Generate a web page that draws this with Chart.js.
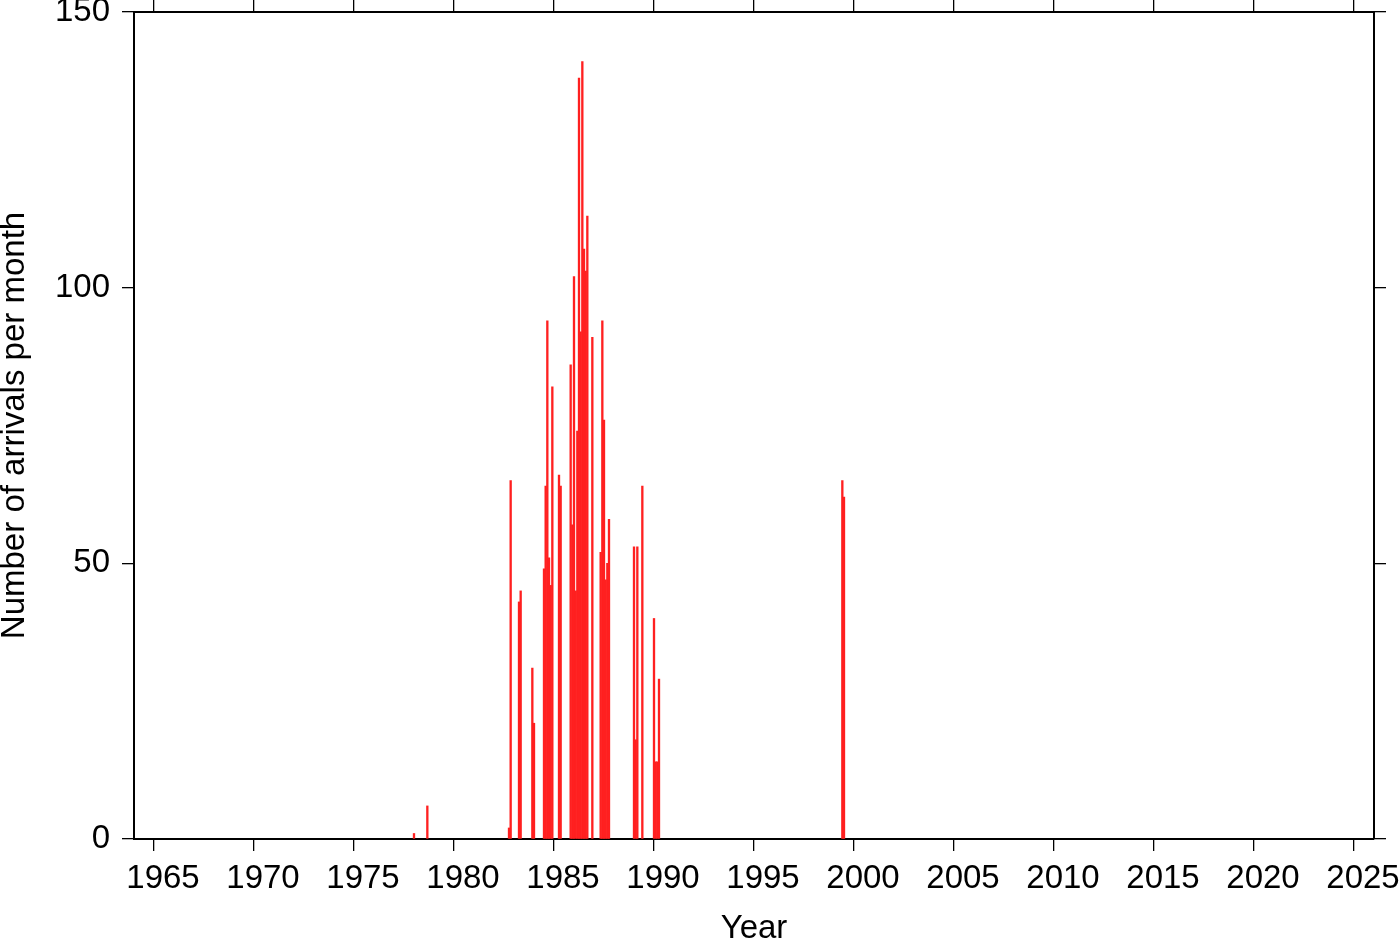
<!DOCTYPE html>
<html>
<head>
<meta charset="utf-8">
<script src="https://cdn.jsdelivr.net/npm/chart.js@4.4.1/dist/chart.umd.min.js"></script>
<style>
    body { margin: 0; background: #fff; }
    #wrap { width: 1400px; height: 942px; position: relative; }
</style>
</head>
<body>
<div id="wrap"><canvas id="grafico"></canvas></div>
<script>
// monthly arrival counts (months with no bar are zero)
const meses = [
    '1978-01', '1978-09', '1982-10', '1982-11', '1983-04', '1983-05', '1983-12', '1984-01',
    '1984-07', '1984-08', '1984-09', '1984-10', '1984-11', '1984-12', '1985-04', '1985-05',
    '1985-11', '1985-12', '1986-01', '1986-02', '1986-03', '1986-04', '1986-05', '1986-06',
    '1986-07', '1986-08', '1986-09', '1986-12', '1987-05', '1987-06', '1987-07', '1987-08',
    '1987-09', '1987-10', '1989-01', '1989-02', '1989-03', '1989-06', '1990-01', '1990-02',
    '1990-03', '1990-04', '1999-06', '1999-07'
];
const chegadas = [
    1, 6, 2, 65, 43, 45, 31, 21,
    49, 64, 94, 51, 46, 82, 66, 64,
    86, 57, 102, 45, 74, 138, 92, 141,
    107, 103, 113, 91, 52, 94, 76, 47,
    50, 58, 53, 18, 53, 64, 40, 14,
    14, 29, 65, 62
];
const anosTicks = [1965, 1970, 1975, 1980, 1985, 1990, 1995, 2000, 2005, 2010, 2015, 2020, 2025];
const valoresTicks = [0, 50, 100, 150];

const FONTE = "'Liberation Sans', Arial, Helvetica, sans-serif";
Chart.defaults.font.family = FONTE;
Chart.defaults.font.size = 33;
Chart.defaults.color = '#000';

// month string -> decimal year at the start of the month
function paraAno(m) {
    const [a, mm] = m.split('-').map(Number);
    return a + (mm - 1) / 12;
}

const pontos = meses.map((m, i) => ({ x: paraAno(m), y: chegadas[i] }));

function ticksFixos(lista) {
    return function (scale) {
        scale.ticks = lista.map(v => ({ value: v }));
    };
}

// fixed axis sizes, and no extra room for labels hanging past the ends
function tamanhoFixo(largura, altura) {
    return function (s) {
        if (largura !== null) s.width = largura;
        if (altura !== null) s.height = altura;
        s.paddingTop = 0;
        s.paddingBottom = 0;
        s.paddingLeft = 0;
        s.paddingRight = 0;
    };
}

const gradeEixo = {
    drawOnChartArea: false,
    drawTicks: true,
    tickLength: 12,
    color: '#000',
    lineWidth: 1.3,
    offset: false
};
const bordaEixo = { display: true, color: '#000', width: 2 };

new Chart(document.getElementById('grafico').getContext('2d'), {
    type: 'bar',
    data: {
        datasets: [{
            data: pontos,
            backgroundColor: '#ff2020',
            borderWidth: 0,
            barPercentage: 1,
            categoryPercentage: 1
        }]
    },
    options: {
        responsive: true,
        maintainAspectRatio: false,
        animation: false,
        layout: { padding: 0 },
        plugins: {
            legend: { display: false },
            tooltip: { enabled: false }
        },
        scales: {
            x: {
                type: 'linear',
                position: 'bottom',
                min: 1964,
                max: 2026,
                offset: false,
                afterBuildTicks: ticksFixos(anosTicks),
                ticks: {
                    autoSkip: false,
                    maxRotation: 0,
                    padding: 8,
                    labelOffset: 9,
                    callback: v => String(v)
                },
                grid: gradeEixo,
                border: bordaEixo,
                title: {
                    display: true,
                    text: 'Year',
                    font: { size: 33, lineHeight: 0.8 },
                    padding: 0
                },
                afterFit: tamanhoFixo(null, 103)
            },
            xTopo: {
                type: 'linear',
                position: 'top',
                min: 1964,
                max: 2026,
                offset: false,
                afterBuildTicks: ticksFixos(anosTicks),
                ticks: { display: false },
                grid: gradeEixo,
                border: bordaEixo,
                afterFit: tamanhoFixo(null, 12)
            },
            y: {
                type: 'linear',
                position: 'left',
                min: 0,
                max: 150,
                afterBuildTicks: ticksFixos(valoresTicks),
                ticks: { padding: 12, callback: v => String(v) },
                grid: gradeEixo,
                border: bordaEixo,
                title: {
                    display: true,
                    text: 'Number of arrivals per month',
                    font: { size: 33, lineHeight: 0.8 },
                    padding: { top: 2, bottom: 0 }
                },
                afterFit: tamanhoFixo(134, null)
            },
            yDir: {
                type: 'linear',
                position: 'right',
                min: 0,
                max: 150,
                afterBuildTicks: ticksFixos(valoresTicks),
                ticks: { display: false },
                grid: gradeEixo,
                border: bordaEixo,
                afterFit: tamanhoFixo(26, null)
            }
        }
    }
});
</script>
</body>
</html>
